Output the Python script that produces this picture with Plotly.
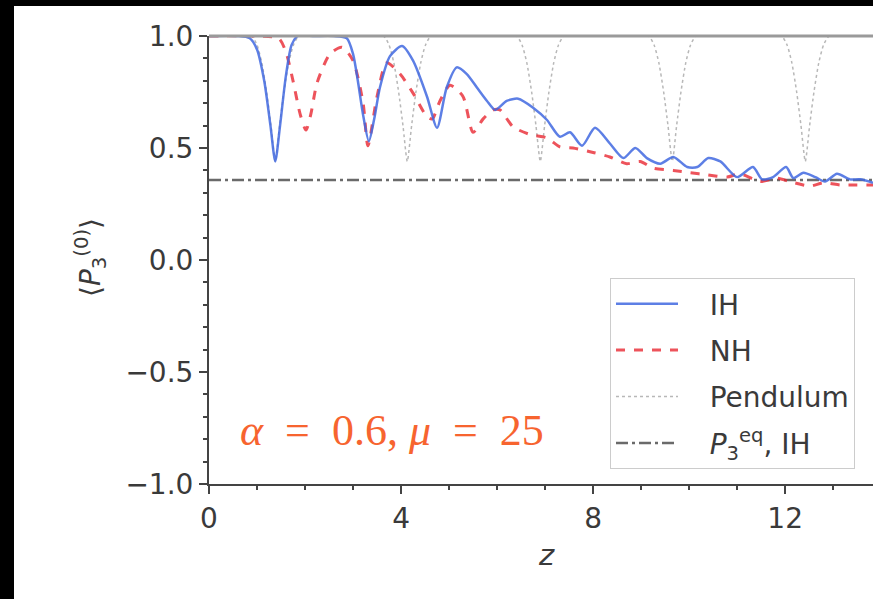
import plotly.graph_objects as go

# ---- data ----
z_ih = [0.0, 0.6, 0.85, 1.0, 1.15, 1.28, 1.38, 1.48, 1.6, 1.72, 1.85, 2.2, 2.6, 2.87, 3.0, 3.1, 3.2, 3.33,
        3.45, 3.56, 3.77, 4.02, 4.25, 4.54, 4.75, 4.95, 5.16, 5.37, 5.58, 5.79, 5.96, 6.2, 6.44, 6.75, 7.04,
        7.31, 7.52, 7.77, 8.04, 8.35, 8.63, 8.88, 9.12, 9.4, 9.67, 9.96, 10.17, 10.4, 10.65, 11.0, 11.33,
        11.52, 11.75, 12.02, 12.17, 12.38, 12.63, 12.83, 13.08, 13.35, 13.56, 13.83]
p_ih = [1.0, 1.0, 0.99, 0.94, 0.8, 0.6, 0.44, 0.6, 0.82, 0.96, 1.0, 1.0, 1.0, 0.99, 0.92, 0.8, 0.66, 0.53,
        0.64, 0.77, 0.91, 0.955, 0.89, 0.73, 0.59, 0.77, 0.86, 0.83, 0.77, 0.71, 0.67, 0.71, 0.72, 0.68, 0.625,
        0.55, 0.57, 0.51, 0.59, 0.52, 0.455, 0.50, 0.455, 0.43, 0.46, 0.415, 0.415, 0.455, 0.44, 0.37, 0.415,
        0.36, 0.37, 0.415, 0.366, 0.39, 0.37, 0.35, 0.385, 0.36, 0.36, 0.345]

z_nh = [0.0, 1.0, 1.45, 1.6, 1.75, 1.9, 2.02, 2.12, 2.25, 2.52, 2.77, 3.0, 3.21, 3.31, 3.5, 3.7, 3.98,
        4.25, 4.54, 4.65, 4.81, 5.02, 5.29, 5.5, 5.71, 5.92, 6.06, 6.33, 6.69, 7.04, 7.31, 7.58, 8.0, 8.35,
        8.7, 8.98, 9.25, 9.67, 10.02, 10.38, 10.79, 11.06, 11.48, 11.83, 12.1, 12.52, 12.8, 13.15, 13.42, 13.83]
p_nh = [1.0, 1.0, 0.99, 0.93, 0.8, 0.65, 0.58, 0.65, 0.79, 0.92, 0.95, 0.89, 0.70, 0.51, 0.73, 0.88, 0.83,
        0.745, 0.64, 0.63, 0.71, 0.78, 0.73, 0.57, 0.63, 0.67, 0.67, 0.595, 0.56, 0.545, 0.505, 0.50, 0.48, 0.46,
        0.43, 0.44, 0.41, 0.40, 0.39, 0.38, 0.37, 0.385, 0.35, 0.365, 0.35, 0.33, 0.345, 0.335, 0.335, 0.335]

z_pend = [0.0, 0.88, 1.0, 1.1, 1.2, 1.29, 1.38, 1.47, 1.56, 1.66, 1.76, 1.88,
          3.63, 3.75, 3.85, 3.95, 4.04, 4.13, 4.22, 4.31, 4.41, 4.51, 4.63,
          6.40, 6.52, 6.62, 6.72, 6.81, 6.90, 6.99, 7.08, 7.18, 7.28, 7.40,
          9.15, 9.27, 9.37, 9.47, 9.56, 9.65, 9.74, 9.83, 9.93, 10.03, 10.15,
          11.92, 12.04, 12.14, 12.24, 12.33, 12.42, 12.51, 12.60, 12.70, 12.80, 12.92, 13.83]
p_pend = [1.0, 1.0, 0.96, 0.88, 0.75, 0.6, 0.44, 0.6, 0.75, 0.88, 0.96, 1.0,
          1.0, 0.96, 0.88, 0.75, 0.6, 0.44, 0.6, 0.75, 0.88, 0.96, 1.0,
          1.0, 0.96, 0.88, 0.75, 0.6, 0.44, 0.6, 0.75, 0.88, 0.96, 1.0,
          1.0, 0.96, 0.88, 0.75, 0.6, 0.44, 0.6, 0.75, 0.88, 0.96, 1.0,
          1.0, 0.96, 0.88, 0.75, 0.6, 0.44, 0.6, 0.75, 0.88, 0.96, 1.0, 1.0]

z_eq = [0.0, 13.83]
p_eq = [0.357, 0.357]

x_ticks = [0, 4, 8, 12]
y_ticks = [-1.0, -0.5, 0.0, 0.5, 1.0]
y_tick_labels = ["\u22121.0", "\u22120.5", "0.0", "0.5", "1.0"]

legend_names = ["IH", "NH", "Pendulum", "<i>P</i><sub>3</sub><sup>eq</sup>, IH"]

# ---- figure ----
W, H = 873, 599
L, R, T, B = 209, 0, 36, 115
PW, PH = W - L - R, H - T - B

def px2paper_x(px):
    return (px - L) / PW

def px2paper_y(py):
    return (H - B - py) / PH

FONT = "DejaVu Sans"
TXT = "#3a3a3a"
PAD = "\u00a0\u00a0\u00a0"

fig = go.Figure()
fig.add_trace(go.Scatter(x=z_pend, y=p_pend, mode="lines", name=PAD + legend_names[2], legendrank=3,
                         legendgroup="c", line=dict(color="#b8b8b8", width=1.5, dash="dot", shape="spline", smoothing=0.6)))
fig.add_trace(go.Scatter(x=z_eq, y=p_eq, mode="lines", name=PAD + legend_names[3], legendrank=4,
                         legendgroup="d", line=dict(color="#6a6a6a", width=2.5, dash="12px,4px,3px,4px")))
fig.add_trace(go.Scatter(x=z_nh, y=p_nh, mode="lines", name=PAD + legend_names[1], legendrank=2, legendgroup="b",
                         line=dict(color="rgba(232,40,50,0.8)", width=3, dash="dash", shape="spline", smoothing=0.7)))
fig.add_trace(go.Scatter(x=z_ih, y=p_ih, mode="lines", name=PAD + legend_names[0], legendrank=1, legendgroup="a",
                         line=dict(color="rgba(65,105,225,0.85)", width=2.5, shape="spline", smoothing=0.7)))

axis_common = dict(showline=True, linecolor="#444", linewidth=2, ticks="outside", ticklen=8,
                   tickwidth=2, tickcolor="#444", showgrid=False, zeroline=False,
                   tickfont=dict(family=FONT, size=28, color=TXT))

fig.update_xaxes(range=[0, 13.83], tickvals=x_ticks, ticktext=[str(v) for v in x_ticks],
                 minor=dict(dtick=1, tick0=0, ticks="outside", ticklen=4, tickwidth=1.5, tickcolor="#444"),
                 **axis_common)
fig.update_yaxes(range=[-1, 1], tickvals=y_ticks, ticktext=y_tick_labels,
                 minor=dict(dtick=0.1, tick0=0, ticks="outside", ticklen=4, tickwidth=1.5, tickcolor="#444"),
                 **axis_common)

shapes = [
    # top spine
    dict(type="line", xref="paper", yref="paper", x0=0, x1=1, y0=1, y1=1,
         line=dict(color="#9a9a9a", width=3)),
    # black bands (frame of the original picture)
    dict(type="rect", xref="paper", yref="paper", x0=px2paper_x(-5), x1=px2paper_x(14),
         y0=px2paper_y(605), y1=px2paper_y(-5), fillcolor="black", line=dict(width=0)),
    dict(type="rect", xref="paper", yref="paper", x0=px2paper_x(-5), x1=px2paper_x(880),
         y0=px2paper_y(6), y1=px2paper_y(-5), fillcolor="black", line=dict(width=0)),
]

annotations = [
    dict(x=0.6, y=-0.76, xref="x", yref="y", xanchor="left", yanchor="middle", showarrow=False,
         text="<i>\u03b1</i>\u2002=\u20020.6, <i>\u03bc</i>\u2002=\u200225",
         font=dict(family="Liberation Serif", size=44, color="#f7642f")),
    dict(x=px2paper_x(546), y=px2paper_y(555), xref="paper", yref="paper", showarrow=False,
         xanchor="center", yanchor="middle",
         text="<i>z</i>", font=dict(family=FONT, size=29, color=TXT)),
    dict(x=px2paper_x(90), y=px2paper_y(258), xref="paper", yref="paper", showarrow=False, textangle=-90,
         xanchor="center", yanchor="middle",
         text="\u27e8<i>P</i><sub>3</sub><sup>(0)</sup>\u27e9", font=dict(family=FONT, size=28, color=TXT)),
]

fig.update_layout(
    width=W, height=H, margin=dict(l=L, r=R, t=T, b=B, pad=0),
    paper_bgcolor="white", plot_bgcolor="white",
    shapes=shapes, annotations=annotations,
    legend=dict(x=px2paper_x(610), y=px2paper_y(278), xanchor="left", yanchor="top",
                bgcolor="rgba(255,255,255,0.85)", bordercolor="#cccccc", borderwidth=1,
                font=dict(family=FONT, size=28, color=TXT), tracegroupgap=7, itemwidth=62,
                traceorder="grouped"),
    showlegend=True,
)

fig.write_html("out.html")
